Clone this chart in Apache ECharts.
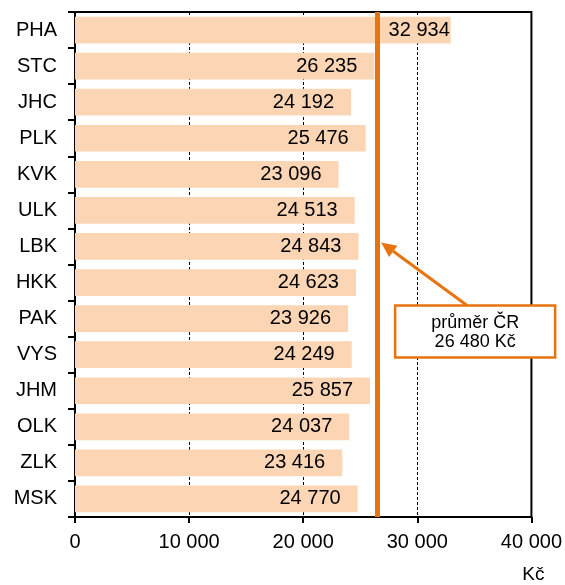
<!DOCTYPE html>
<html>
<head>
<meta charset="utf-8">
<script src="https://cdn.jsdelivr.net/npm/echarts@6/dist/echarts.min.js"></script>
<style>
html,body{margin:0;padding:0;background:#fff;}
#c{width:565px;height:585px;}
</style>
</head>
<body>
<div id="c"></div>
<script>
var categories = ['PHA','STC','JHC','PLK','KVK','ULK','LBK','HKK','PAK','VYS','JHM','OLK','ZLK','MSK'];
var values = [32934,26235,24192,25476,23096,24513,24843,24623,23926,24249,25857,24037,23416,24770];
var average = 26480;
var averageLabel = ['průměr ČR', '26 480 Kč'];
var xTicks = [0, 10000, 20000, 30000, 40000];
var unitName = 'Kč';
var arrowTarget = 'LBK';

function fmt(v){ return String(v).replace(/\B(?=(\d{3})+(?!\d))/g, ' '); }

var FONT = '"Liberation Sans", Arial, sans-serif';
var chart = echarts.init(document.getElementById('c'), null, {renderer:'canvas'});

var seriesData = values.map(function(v, i){
  var item = {value: v};
  if (v > average) {
    item.label = {distance: 1};
  }
  return item;
});

var option = {
  animation: false,
  backgroundColor: '#fff',
  grid: {left: 75, right: 31, top: 12, bottom: 68, show: true, borderColor: '#000', borderWidth: 2, backgroundColor: 'transparent'},
  xAxis: {
    type: 'value', min: xTicks[0], max: xTicks[xTicks.length-1], interval: 10000,
    name: unitName, nameLocation: 'end', nameGap: 0,
    nameTextStyle: {fontFamily: FONT, fontSize: 19, color: '#000', align: 'center', verticalAlign: 'top', padding: [48, 0, 0, 4]},
    axisLine: {show: true, lineStyle: {color: '#000', width: 2}},
    axisTick: {show: true, length: 6, lineStyle: {color: '#000', width: 2}},
    axisLabel: {fontFamily: FONT, fontSize: 20, color: '#000', margin: 15, formatter: function(v){ return fmt(v); }},
    splitLine: {show: true, lineStyle: {color: '#000', width: 1, type: [3, 2]}}
  },
  yAxis: {
    type: 'category', data: categories, inverse: true,
    axisLine: {show: true, lineStyle: {color: '#000', width: 2}},
    axisTick: {show: true, length: 7, lineStyle: {color: '#000', width: 2}},
    axisLabel: {fontFamily: FONT, fontSize: 20, color: '#000', margin: 18}
  },
  series: [{
    type: 'bar',
    data: seriesData,
    barCategoryGap: '26%',
    itemStyle: {color: '#FCD5B4'},
    label: {show: true, position: 'insideRight', distance: 17, fontFamily: FONT, fontSize: 20, color: '#000',
      formatter: function(p){ return fmt(p.value); }},
    z: 2,
    markLine: {
      silent: true, symbol: ['none','none'], label: {show: false},
      lineStyle: {color: '#E8740F', width: 5, type: 'solid'},
      data: [{xAxis: average}],
      z: 3
    }
  }]
};
chart.setOption(option);

// annotation arrow and box placed through the chart's own scales
var tip = chart.convertToPixel({gridIndex: 0}, [average, arrowTarget]);
tip = [tip[0] + 4, tip[1] - 4];
var boxL = tip[0] + 14, boxT = tip[1] + 63, boxW = 160, boxH = 52;
var tail = [boxL + 72, boxT];
var dx = tip[0] - tail[0], dy = tip[1] - tail[1];
var len = Math.sqrt(dx*dx + dy*dy); var ux = dx/len, uy = dy/len;
var headL = 15, headW = 7;
var base = [tip[0] - ux*headL, tip[1] - uy*headL];
var px = -uy, py = ux;
chart.setOption({
  graphic: [
    {type: 'line', z: 10, shape: {x1: tail[0], y1: tail[1], x2: base[0], y2: base[1]}, style: {stroke: '#E8740F', lineWidth: 3}},
    {type: 'polygon', z: 10, shape: {points: [tip, [base[0] + px*headW, base[1] + py*headW], [base[0] - px*headW, base[1] - py*headW]]}, style: {fill: '#E8740F'}},
    {type: 'rect', z: 11, shape: {x: boxL, y: boxT, width: boxW, height: boxH}, style: {fill: '#fff', stroke: '#E8740F', lineWidth: 2.5}},
    {type: 'text', z: 12, x: boxL + boxW/2, y: boxT + boxH/2 + 1,
      style: {text: averageLabel.join('\n'), fontFamily: FONT, fontSize: 18, lineHeight: 19, fill: '#000', align: 'center', verticalAlign: 'middle'}}
  ]
});
</script>
</body>
</html>
